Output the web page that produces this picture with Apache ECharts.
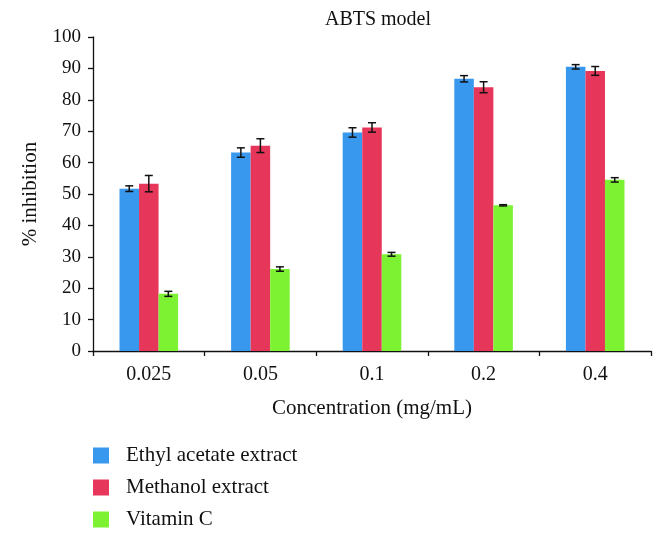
<!DOCTYPE html>
<html><head><meta charset="utf-8">
<script src="https://cdn.jsdelivr.net/npm/echarts@6/dist/echarts.min.js"></script>
<style>html,body{margin:0;padding:0;background:#fff}#c{width:666px;height:541px}</style>
</head><body><div id="c"></div>
<script>
var categories = ['0.025', '0.05', '0.1', '0.2', '0.4'];
var seriesNames = ['Ethyl acetate extract', 'Methanol extract', 'Vitamin C'];
var ethyl = [51.7, 63.2, 69.6, 86.7, 90.5];
var ethylErr = [0.9, 1.5, 1.5, 1.0, 0.7];
var methanol = [53.3, 65.4, 71.2, 84.0, 89.2];
var methanolErr = [2.6, 2.2, 1.5, 1.75, 1.4];
var vitC = [18.2, 26.1, 30.8, 46.4, 54.5];
var vitCErr = [0.8, 0.7, 0.6, 0.2, 0.7];
var yTicks = [0, 10, 20, 30, 40, 50, 60, 70, 80, 90, 100];

var colors = ['#3798ee', '#e6365a', '#7df233'];
var values = [ethyl, methanol, vitC];
var errs = [ethylErr, methanolErr, vitCErr];
var BAR_FRAC = 0.175;
var FONT = 'Liberation Serif';

var chart = echarts.init(document.getElementById('c'), null, {renderer: 'canvas'});

function errSeries(k) {
  var data = values[k].map(function (v, i) { return [i, v, errs[k][i]]; });
  return {
    type: 'custom',
    name: seriesNames[k] + ' err',
    z: 10,
    silent: true,
    data: data,
    encode: {x: 0, y: 1},
    renderItem: function (params, api) {
      var i = api.value(0), v = api.value(1), e = api.value(2);
      var bandW = api.size([1, 0])[0];
      var bw = bandW * BAR_FRAC;
      var off = (k - 1) * bw;
      var top = api.coord([i, v + e]);
      var bot = api.coord([i, v - e]);
      var x = top[0] + off;
      var cap = 4;
      var st = {stroke: '#111', lineWidth: 1.5};
      return {
        type: 'group',
        children: [
          {type: 'line', shape: {x1: x, y1: top[1], x2: x, y2: bot[1]}, style: st},
          {type: 'line', shape: {x1: x - cap, y1: top[1], x2: x + cap, y2: top[1]}, style: st},
          {type: 'line', shape: {x1: x - cap, y1: bot[1], x2: x + cap, y2: bot[1]}, style: st}
        ]
      };
    }
  };
}

var series = [];
for (var k = 0; k < 3; k++) {
  series.push({
    type: 'bar',
    name: seriesNames[k],
    data: values[k],
    barWidth: (BAR_FRAC * 100) + '%',
    barGap: '0%',
    itemStyle: {color: colors[k]}
  });
}
for (var k2 = 0; k2 < 3; k2++) series.push(errSeries(k2));

chart.setOption({
  animation: false,
  backgroundColor: '#fff',
  textStyle: {fontFamily: FONT, color: '#111'},
  title: {
    text: 'ABTS model',
    left: 373, top: 5, textAlign: 'center',
    textStyle: {fontFamily: FONT, fontSize: 20, fontWeight: 'normal', color: '#111'}
  },
  legend: {
    data: seriesNames,
    orient: 'vertical',
    left: 93, top: 445,
    height: 100,
    padding: 0,
    icon: 'rect',
    itemWidth: 16, itemHeight: 16, itemGap: 11,
    textStyle: {fontFamily: FONT, fontSize: 21, color: '#111', padding: [0, 0, 0, 12]}
  },
  grid: {left: 93, right: 15, top: 37, bottom: 190, containLabel: false},
  xAxis: {
    type: 'category',
    data: categories,
    name: 'Concentration (mg/mL)',
    nameLocation: 'middle',
    nameGap: 47,
    nameTextStyle: {fontFamily: FONT, fontSize: 21, color: '#111'},
    axisLine: {lineStyle: {color: '#111', width: 1.3}},
    axisTick: {show: true, length: 5, lineStyle: {color: '#111', width: 1.3}},
    axisLabel: {fontFamily: FONT, fontSize: 20, color: '#111', margin: 14},
    splitLine: {show: false}
  },
  yAxis: {
    type: 'value',
    min: yTicks[0], max: yTicks[yTicks.length - 1], interval: yTicks[1] - yTicks[0],
    name: '% inhibition',
    nameLocation: 'middle',
    nameGap: 52,
    nameRotate: 90,
    nameTextStyle: {fontFamily: FONT, fontSize: 21, color: '#111'},
    axisLine: {show: true, lineStyle: {color: '#111', width: 1.3}},
    axisTick: {show: true, length: 5, lineStyle: {color: '#111', width: 1.3}},
    axisLabel: {fontFamily: FONT, fontSize: 19, color: '#111', margin: 12},
    splitLine: {show: false}
  },
  series: series
});
</script>
</body></html>
